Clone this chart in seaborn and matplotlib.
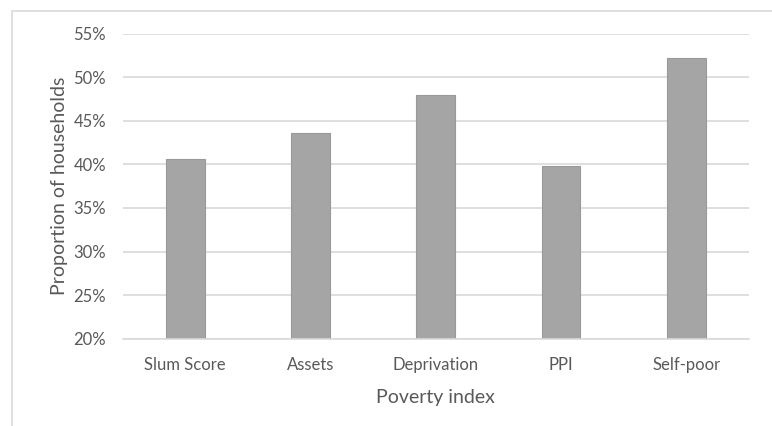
import pandas as pd
import matplotlib.pyplot as plt
import matplotlib.ticker as mtick
from matplotlib.patches import Rectangle
import seaborn as sns

# data
CATEGORIES = ['Slum Score', 'Assets', 'Deprivation', 'PPI', 'Self-poor']
PROPORTIONS = [0.406, 0.436, 0.480, 0.398, 0.522]
Y_TICKS = [0.20, 0.25, 0.30, 0.35, 0.40, 0.45, 0.50, 0.55]

TEXT_COL = '#595959'
GRID_COL = '#d9d9d9'
BAR_COL = '#a5a5a5'

df = pd.DataFrame({'index': CATEGORIES, 'proportion': PROPORTIONS})

sns.set_style('white')
plt.rcParams['font.family'] = ['Lato', 'DejaVu Sans']

fig = plt.figure(figsize=(7.72, 4.26), dpi=100)
ax = fig.add_axes([0.1588, 0.205, 0.8112, 0.716])

# outer light frame like the original chart area
fig.patches.append(Rectangle((12 / 772, -0.1), 1.2, 1 - 11 / 426 + 0.1,
                             transform=fig.transFigure, fill=False,
                             edgecolor=GRID_COL, linewidth=1.2))

sns.barplot(data=df, x='index', y='proportion', color=BAR_COL,
            edgecolor='#999999', linewidth=0.8, width=0.31, saturation=1, ax=ax)

ax.set_ylim(0.20, 0.55)
ax.set_yticks(Y_TICKS)
ax.yaxis.set_major_formatter(mtick.PercentFormatter(1.0, decimals=0))
ax.set_axisbelow(True)
ax.yaxis.grid(True, color=GRID_COL, linewidth=1.2)

for s in ['top', 'right', 'left']:
    ax.spines[s].set_visible(False)
ax.spines['bottom'].set_color(GRID_COL)
ax.spines['bottom'].set_linewidth(1.2)

ax.tick_params(axis='both', length=0, labelsize=12, colors=TEXT_COL)
ax.tick_params(axis='x', pad=13)
ax.tick_params(axis='y', pad=12)

ax.set_xlabel('Poverty index', fontsize=14, color=TEXT_COL, labelpad=12)
ax.set_ylabel('Proportion of households', fontsize=14, color=TEXT_COL, labelpad=4)

fig.savefig('out.png', dpi=100)
